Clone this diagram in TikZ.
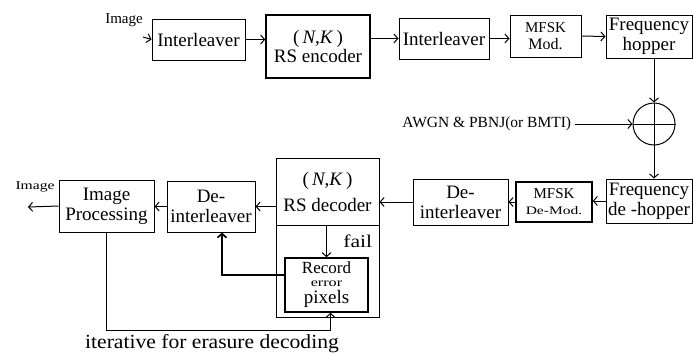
\documentclass[tikz,border=0pt]{standalone}
\usepackage{fontspec}
\setmainfont{Liberation Serif}
\usetikzlibrary{arrows,arrows.meta,positioning}

\newcommand{\wide}[1]{\addfontfeatures{FakeStretch=#1}}

\begin{document}
\begin{tikzpicture}[x=1pt,y=-1pt,>={Straight Barb[length=4pt,width=9pt]},line width=1pt,
  blk/.style={draw,align=center,inner sep=1pt,font=\fontsize{19}{20}\selectfont},
  small/.style={font=\fontsize{15}{16}\selectfont}]

  \useasboundingbox (0,0) rectangle (693,354);

  % transmitter
  \node[blk,minimum width=93pt,minimum height=41pt] (intlA) at (198.5,39.5) {Interleaver};
  \node[blk,minimum width=104pt,minimum height=63pt,line width=1.5pt] (rsenc) at (318,46.5) {(\,\textit{N},\textit{K}\,)\\[-1pt]RS encoder};
  \node[blk,minimum width=90pt,minimum height=41pt] (intlB) at (444,38.5) {Interleaver};
  \node[blk,minimum width=71pt,minimum height=42pt,font=\fontsize{15}{17}\selectfont] (mod) at (545.5,36) {MFSK\\{\fontsize{16}{17}\selectfont Mod.}};
  \node[blk,minimum width=86pt,minimum height=43pt] (hop) at (649,36.5) {Frequency\\hopper};

  % channel
  \node[draw,circle,minimum size=42pt,inner sep=0pt] (sum) at (654,124) {};
  \draw (sum.north) -- (sum.south) (sum.west) -- (sum.east);
  \node[anchor=east,font=\fontsize{15.5}{16}\selectfont] (awgn) at (575,124) {AWGN \& PBNJ(or BMTI)};

  % receiver
  \node[blk,minimum width=86pt,minimum height=44pt] (dehop) at (649,201) {Frequency\\de -hopper};
  \node[blk,minimum width=76pt,minimum height=40pt,font=\fontsize{15}{16}\selectfont,line width=1.4pt] (demod) at (554,202)
       {MFSK\\{\fontsize{11.5}{12}\selectfont\wide{1.35}De-Mod.}};
  \node[blk,minimum width=95pt,minimum height=46pt] (deintR) at (460.5,202) {De-\\interleaver};
  \node[blk,minimum width=103pt,minimum height=67pt] (rsdec) at (327.5,191.5) {(\,\textit{N},\textit{K}\,)\\[6pt]RS decoder};
  \node[blk,minimum width=103pt,minimum height=92pt] (failbox) at (327.5,271) {};
  \node[blk,minimum width=83pt,minimum height=54pt,line width=1.6pt,inner sep=0pt,font=\fontsize{17}{15}\selectfont] (rec) at (326.5,285)
       {Record\\[-2pt]{\fontsize{12}{12}\selectfont\wide{1.35}error}\\[2pt]{\fontsize{19}{15}\selectfont pixels}};
  \node[blk,minimum width=88pt,minimum height=51pt] (deintL) at (211,206.5) {De-\\interleaver};
  \node[blk,minimum width=95pt,minimum height=52pt] (improc) at (106.5,206) {Image\\Processing};

  \coordinate (in) at (143,37);
  \coordinate (out) at (28,207);
  \node[small] (inlbl) at (124,20) {Image};
  \node[font=\fontsize{12}{13}\selectfont\wide{1.3}] (outlbl) at (35,187) {Image};

  \path[->]
    (in) edge (intlA.west)
    (intlA.east) edge (intlA.east -| rsenc.west)
    (rsenc.east |- intlB) edge (intlB.west)
    (intlB.east) edge (intlB.east -| mod.west)
    (mod.east) edge (hop.west)
    (sum.north |- hop.south) edge (sum.north)
    (awgn.east) edge (sum.west)
    (sum.south) edge (sum.south |- dehop.north)
    (dehop.west) edge (dehop.west -| demod.east)
    (demod.west) edge (demod.west -| deintR.east)
    (deintR.west) edge (deintR.west -| rsdec.east)
    (rsdec.west |- deintL) edge (deintL.east)
    (deintL.west) edge (deintL.west -| improc.east)
    (improc.west) edge (out)
    (rec.north |- rsdec.south) edge node[right=13pt,font=\fontsize{18}{18}\selectfont\wide{1.2}] {fail} (rec.north)
    ;

  \draw[->,line width=1.7pt] ([yshift=10pt]rec.west) -| ([xshift=11pt]deintL.south);
  \draw[->] (improc.south) -- ++(0,98) -| ([xshift=4pt]rec.south);

  \node[font=\fontsize{20}{21}\selectfont\wide{1.08}] (iter) at (212,344) {iterative for erasure decoding};

\end{tikzpicture}
\end{document}
